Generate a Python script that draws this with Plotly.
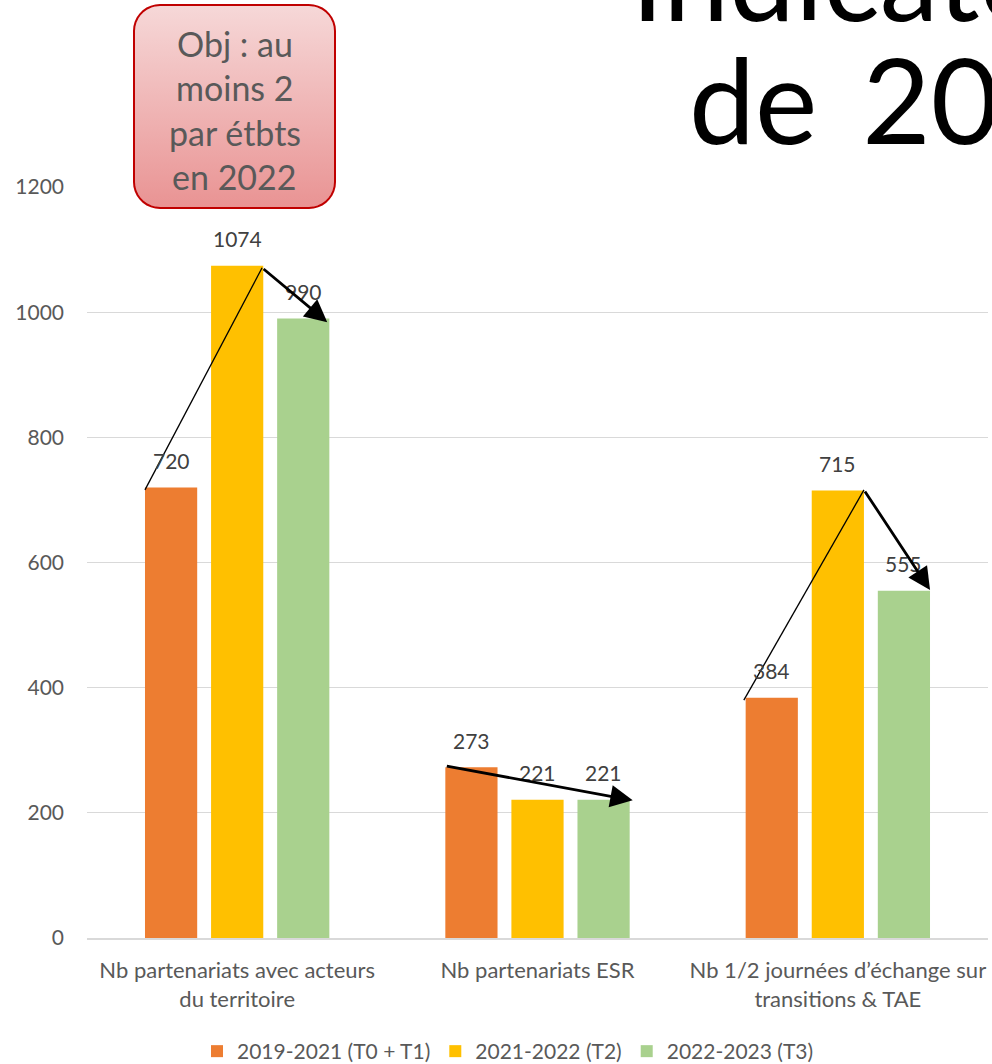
import plotly.graph_objects as go
import math

categories = ["Nb partenariats avec acteurs<br>du territoire",
              "Nb partenariats ESR",
              "Nb 1/2 journées d’échange sur<br>transitions & TAE"]
series_names = ["2019-2021 (T0 + T1)", "2021-2022 (T2)", "2022-2023 (T3)"]
vals_t1 = [720, 273, 384]
vals_t2 = [1074, 221, 715]
vals_t3 = [990, 221, 555]
colors = ["#ED7D31", "#FFC000", "#A9D18E"]
y_ticks = [0, 200, 400, 600, 800, 1000, 1200]

W, H = 992, 1064
FONT = "Lato"

fig = go.Figure()
all_vals = [vals_t1, vals_t2, vals_t3]
for name, vals, col in zip(series_names, all_vals, colors):
    fig.add_trace(go.Bar(
        x=categories, y=vals, name=name, marker=dict(color=col, line=dict(width=0)),
        cliponaxis=False, xaxis="x", yaxis="y", hoverinfo="x+y"))

# data labels
slot = 0.22
for s, vals in enumerate(all_vals):
    for i, v in enumerate(vals):
        fig.add_annotation(x=i + (s - 1) * slot, y=v, xref="x", yref="y", text=str(v),
                           showarrow=False, yanchor="middle", yshift=27,
                           font=dict(size=21, color="#404040", family=FONT))

# rounded callout box (decorative) in page-pixel coordinates on hidden overlay axes
x0, x1, y0, y1, r = 134, 335, 5, 208, 26
pts = []
for cx, cy, a0 in [(x1 - r, y0 + r, -90), (x1 - r, y1 - r, 0), (x0 + r, y1 - r, 90), (x0 + r, y0 + r, 180)]:
    for k in range(0, 91, 10):
        a = math.radians(a0 + k)
        pts.append((cx + r * math.cos(a), cy + r * math.sin(a)))
pts.append(pts[0])
fig.add_trace(go.Scatter(
    x=[p[0] for p in pts], y=[p[1] for p in pts], mode="lines", fill="toself",
    line=dict(color="#C00000", width=2),
    fillgradient=dict(type="vertical", colorscale=[[0, "#E99393"], [1, "#F6D8D8"]]),
    xaxis="x2", yaxis="y2", showlegend=False, hoverinfo="skip"))

fig.update_layout(
    width=W, height=H, margin=dict(l=0, r=0, t=0, b=0, autoexpand=False),
    paper_bgcolor="white", plot_bgcolor="rgba(0,0,0,0)",
    barmode="group", bargap=0.34, bargroupgap=0.21,
    font=dict(family=FONT, color="#595959", size=21),
    xaxis=dict(domain=[87 / W, 988 / W], anchor="y", showgrid=False, showline=True,
               linecolor="#D9D9D9", linewidth=1.5, ticks="", tickfont=dict(size=22, color="#595959"),
               ticklabelstandoff=12, fixedrange=True, automargin=False),
    yaxis=dict(domain=[(H - 938) / H, (H - 187) / H], anchor="x", range=[0, 1200],
               tickvals=y_ticks, showgrid=True, gridcolor="#D9D9D9", gridwidth=1.3, zeroline=False,
               tickfont=dict(size=21, color="#595959"), ticklabelstandoff=22, fixedrange=True,
               automargin=False),
    xaxis2=dict(domain=[0, 1], anchor="y2", range=[0, W], visible=False, fixedrange=True,
                automargin=False),
    yaxis2=dict(domain=[0, 1], anchor="x2", range=[H, 0], visible=False, fixedrange=True,
                automargin=False),
    legend=dict(orientation="h", x=508 / W, xanchor="center", y=-8 / H, yanchor="bottom",
                font=dict(size=21, color="#595959"), traceorder="normal", itemwidth=30),
    showlegend=True,
)

# thin connector lines (data coords)
for (xa, ya, xb, yb) in [(-0.307, 716, 0.083, 1071), (1.687, 380, 2.087, 716)]:
    fig.add_shape(type="line", xref="x", yref="y", x0=xa, y0=ya, x1=xb, y1=yb,
                  line=dict(color="black", width=1.3))

# bold arrows
for (xa, ya, xb, yb) in [(0.083, 1071, 0.30, 984), (0.693, 275, 1.317, 220), (2.087, 716, 2.307, 556)]:
    fig.add_annotation(x=xb, y=yb, ax=xa, ay=ya, xref="x", yref="y", axref="x", ayref="y",
                       text="", showarrow=True, arrowhead=2, arrowsize=1.6, arrowwidth=2.8,
                       arrowcolor="black", standoff=0, startstandoff=0)

# callout text
for i, line in enumerate(["Obj : au", "moins 2", "par étbts", "en 2022"]):
    fig.add_annotation(x=234.5, y=43 + i * 44.5, xref="x2", yref="y2", text=line, showarrow=False,
                       font=dict(size=34, color="#595959", family=FONT), xanchor="center", yanchor="middle")

# slide title (cropped)
fig.add_annotation(x=629, y=48, xref="x2", yref="y2", text="Indicateurs",
                   showarrow=False, font=dict(size=118, color="black", family=FONT),
                   xanchor="left", yanchor="bottom")
fig.add_annotation(x=687, y=171, xref="x2", yref="y2", text="de\u2009 2019 à 2023",
                   showarrow=False, font=dict(size=118, color="black", family=FONT),
                   xanchor="left", yanchor="bottom")

fig.write_html("out.html", config={"displayModeBar": False},
               post_script="document.body.style.margin='0';document.body.style.overflow='hidden';")
